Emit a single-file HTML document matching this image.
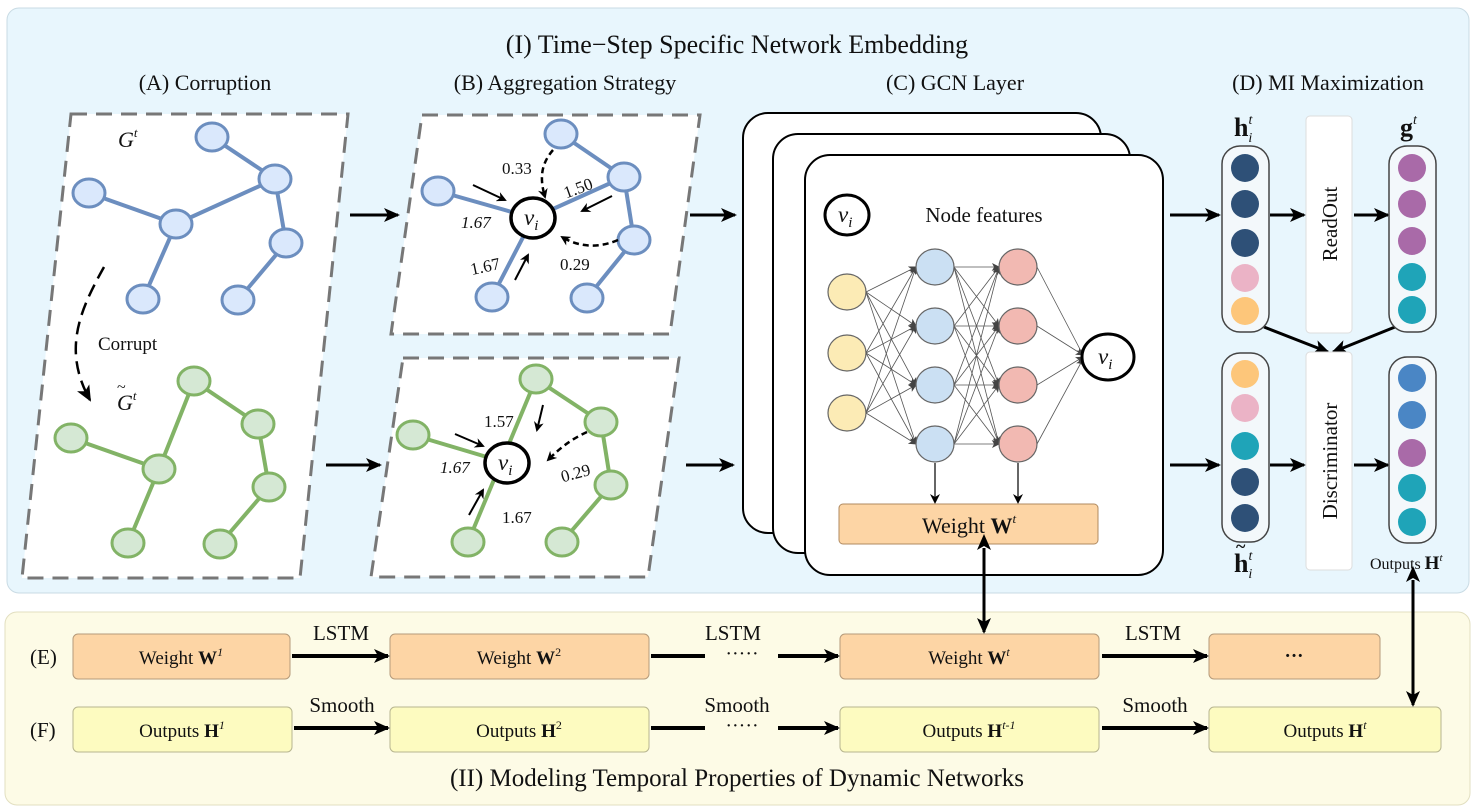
<!DOCTYPE html>
<html><head><meta charset="utf-8"><style>
html,body{margin:0;padding:0;background:#fff}
svg{display:block}
text{font-family:"Liberation Serif",serif;fill:#111}
</style></head><body>
<svg width="1475" height="810" viewBox="0 0 1475 810" xmlns="http://www.w3.org/2000/svg">
<defs>
<marker id="ah" markerWidth="10" markerHeight="10" refX="8" refY="5" orient="auto" markerUnits="userSpaceOnUse"><path d="M0,0 L10,5 L0,10 L3,5z" fill="#000"/></marker>
<marker id="ahb" markerWidth="16" markerHeight="16" refX="14" refY="8" orient="auto" markerUnits="userSpaceOnUse"><path d="M0,1 L16,8 L0,15 L4,8z" fill="#000"/></marker>
<marker id="ahs" markerWidth="8" markerHeight="8" refX="7" refY="4" orient="auto" markerUnits="userSpaceOnUse"><path d="M0,0 L8,4 L0,8 L2,4z" fill="#444"/></marker>
<marker id="ahbs" markerWidth="16" markerHeight="16" refX="2" refY="8" orient="auto-start-reverse" markerUnits="userSpaceOnUse"><path d="M0,1 L16,8 L0,15 L4,8z" fill="#000"/></marker>
</defs>
<rect x="7" y="8" width="1462" height="585" rx="12" fill="#e8f6fd" stroke="#c9dbe4"/>
<rect x="5" y="612" width="1465" height="193" rx="12" fill="#fdfbe6" stroke="#e2dfc0"/>
<text x="737" y="53" font-size="26" text-anchor="middle">(I) Time−Step Specific Network Embedding</text>
<g font-size="22" text-anchor="middle">
<text x="205" y="90">(A) Corruption</text>
<text x="565" y="90">(B) Aggregation Strategy</text>
<text x="955" y="90">(C) GCN Layer</text>
<text x="1328" y="90">(D) MI Maximization</text>
</g>
<!-- Panel A -->
<polygon points="71,114 348,114 300,578 22,578" fill="#fff" stroke="#777" stroke-width="3" stroke-dasharray="16,9"/>
<g stroke="#6c8ebf" stroke-width="4"><line x1="212" y1="137" x2="275" y2="179"/><line x1="275" y1="179" x2="176" y2="224"/><line x1="89" y1="193" x2="176" y2="224"/><line x1="176" y1="224" x2="143" y2="299"/><line x1="275" y1="179" x2="286" y2="243"/><line x1="286" y1="243" x2="238" y2="300"/></g>
<g fill="#dae8fc" stroke="#6c8ebf" stroke-width="3"><ellipse cx="212" cy="137" rx="16" ry="14"/><ellipse cx="275" cy="179" rx="16" ry="14"/><ellipse cx="89" cy="193" rx="16" ry="14"/><ellipse cx="176" cy="224" rx="16" ry="14"/><ellipse cx="286" cy="243" rx="16" ry="14"/><ellipse cx="143" cy="299" rx="16" ry="14"/><ellipse cx="238" cy="300" rx="16" ry="14"/></g>
<g stroke="#82b366" stroke-width="4"><line x1="194" y1="381" x2="159" y2="469"/><line x1="194" y1="381" x2="258" y2="424"/><line x1="71" y1="438" x2="159" y2="469"/><line x1="159" y1="469" x2="128" y2="543"/><line x1="258" y1="424" x2="269" y2="487"/><line x1="269" y1="487" x2="220" y2="544"/></g>
<g fill="#d5e8d4" stroke="#82b366" stroke-width="3"><ellipse cx="194" cy="381" rx="16" ry="14"/><ellipse cx="258" cy="424" rx="16" ry="14"/><ellipse cx="71" cy="438" rx="16" ry="14"/><ellipse cx="159" cy="469" rx="16" ry="14"/><ellipse cx="269" cy="487" rx="16" ry="14"/><ellipse cx="128" cy="543" rx="16" ry="14"/><ellipse cx="220" cy="544" rx="16" ry="14"/></g>
<text x="118" y="147" font-size="22" font-style="italic">G<tspan font-size="13" dy="-10">t</tspan></text>
<text x="117" y="410" font-size="22" font-style="italic">G<tspan font-size="13" dy="-10">t</tspan></text>
<text x="117" y="392" font-size="16">~</text>
<text x="98" y="350" font-size="19">Corrupt</text>
<path d="M104,267 C80,310 62,350 90,400" fill="none" stroke="#000" stroke-width="2.5" stroke-dasharray="13,7" marker-end="url(#ahb)"/>
<!-- Arrows A->B, B->C -->
<g stroke="#000" stroke-width="3"><line x1="350" y1="215" x2="398" y2="215" marker-end="url(#ahb)"/><line x1="326" y1="465" x2="380" y2="465" marker-end="url(#ahb)"/><line x1="690" y1="215" x2="735" y2="215" marker-end="url(#ahb)"/><line x1="686" y1="465" x2="733" y2="465" marker-end="url(#ahb)"/></g>
<!-- Panel B top -->
<polygon points="422,115 700,115 670,334 391,334" fill="#fff" stroke="#777" stroke-width="3" stroke-dasharray="16,9"/>
<g stroke="#6c8ebf" stroke-width="4"><line x1="561" y1="134" x2="624" y2="177"/><line x1="624" y1="177" x2="533" y2="218"/><line x1="438" y1="191" x2="533" y2="218"/><line x1="533" y1="218" x2="492" y2="297"/><line x1="624" y1="177" x2="634" y2="240"/><line x1="634" y1="240" x2="587" y2="298"/></g>
<g fill="#dae8fc" stroke="#6c8ebf" stroke-width="3"><ellipse cx="561" cy="134" rx="16" ry="14"/><ellipse cx="624" cy="177" rx="16" ry="14"/><ellipse cx="438" cy="191" rx="16" ry="14"/><ellipse cx="634" cy="240" rx="16" ry="14"/><ellipse cx="492" cy="297" rx="16" ry="14"/><ellipse cx="587" cy="298" rx="16" ry="14"/></g>
<ellipse cx="533" cy="218" rx="22" ry="20" fill="#fff" stroke="#000" stroke-width="3.5"/>
<text x="524" y="225" font-size="23" font-style="italic">v<tspan font-size="15" dy="5">i</tspan></text>
<g fill="none" stroke="#000" stroke-width="2.5" stroke-dasharray="6,4"><path d="M553,150 C540,165 540,180 545,197" marker-end="url(#ah)"/><path d="M618,240 C595,250 575,245 562,237" marker-end="url(#ah)"/></g>
<g stroke="#000" stroke-width="2"><line x1="473" y1="185" x2="505" y2="200" marker-end="url(#ah)"/><line x1="612" y1="196" x2="582" y2="211" marker-end="url(#ah)"/><line x1="515" y1="280" x2="528" y2="255" marker-end="url(#ah)"/></g>
<g font-size="17"><text x="502" y="174">0.33</text><text x="563" y="193" transform="rotate(-20 580 187)">1.50</text><text x="461" y="228" font-style="italic">1.67</text><text x="470" y="272" transform="rotate(-12 485 265)">1.67</text><text x="560" y="270">0.29</text></g>
<!-- Panel B bottom -->
<polygon points="403,358 679,358 648,577 371,577" fill="#fff" stroke="#777" stroke-width="3" stroke-dasharray="16,9"/>
<g stroke="#82b366" stroke-width="4"><line x1="536" y1="379" x2="468" y2="542"/><line x1="536" y1="379" x2="601" y2="422"/><line x1="413" y1="435" x2="507" y2="463"/><line x1="601" y1="422" x2="611" y2="485"/><line x1="611" y1="485" x2="562" y2="542"/></g>
<g fill="#d5e8d4" stroke="#82b366" stroke-width="3"><ellipse cx="536" cy="379" rx="16" ry="14"/><ellipse cx="601" cy="422" rx="16" ry="14"/><ellipse cx="413" cy="435" rx="16" ry="14"/><ellipse cx="611" cy="485" rx="16" ry="14"/><ellipse cx="468" cy="542" rx="16" ry="14"/><ellipse cx="562" cy="542" rx="16" ry="14"/></g>
<ellipse cx="507" cy="463" rx="22" ry="20" fill="#fff" stroke="#000" stroke-width="3.5"/>
<text x="498" y="470" font-size="23" font-style="italic">v<tspan font-size="15" dy="5">i</tspan></text>
<path d="M587,432 C570,440 560,448 548,460" fill="none" stroke="#000" stroke-width="2.5" stroke-dasharray="6,4" marker-end="url(#ah)"/>
<g stroke="#000" stroke-width="2"><line x1="455" y1="434" x2="483" y2="446" marker-end="url(#ah)"/><line x1="543" y1="405" x2="537" y2="430" marker-end="url(#ah)"/><line x1="469" y1="515" x2="483" y2="490" marker-end="url(#ah)"/></g>
<g font-size="17"><text x="484" y="427">1.57</text><text x="440" y="473" font-style="italic">1.67</text><text x="560" y="478" transform="rotate(-15 578 470)">0.29</text><text x="502" y="523">1.67</text></g>
<!-- Panel C -->
<rect x="743" y="113" width="358" height="420" rx="25" fill="#fff" stroke="#000" stroke-width="2"/>
<rect x="773" y="134" width="357" height="419" rx="25" fill="#fff" stroke="#000" stroke-width="2"/>
<rect x="805" y="155" width="358" height="420" rx="25" fill="#fff" stroke="#000" stroke-width="2"/>
<ellipse cx="847" cy="215" rx="22" ry="20" fill="#fff" stroke="#000" stroke-width="3"/>
<text x="838" y="222" font-size="23" font-style="italic">v<tspan font-size="15" dy="5">i</tspan></text>
<text x="984" y="222" font-size="21" text-anchor="middle">Node features</text>
<g stroke="#555" stroke-width="0.8" marker-end="url(#ahs)">
<line x1="866" y1="292" x2="916" y2="267"/><line x1="866" y1="292" x2="916" y2="326"/><line x1="866" y1="292" x2="916" y2="385"/><line x1="866" y1="292" x2="916" y2="444"/>
<line x1="866" y1="353" x2="916" y2="267"/><line x1="866" y1="353" x2="916" y2="326"/><line x1="866" y1="353" x2="916" y2="385"/><line x1="866" y1="353" x2="916" y2="444"/>
<line x1="866" y1="413" x2="916" y2="267"/><line x1="866" y1="413" x2="916" y2="326"/><line x1="866" y1="413" x2="916" y2="385"/><line x1="866" y1="413" x2="916" y2="444"/>
<line x1="954" y1="267" x2="999" y2="267"/><line x1="954" y1="267" x2="999" y2="326"/><line x1="954" y1="267" x2="999" y2="385"/><line x1="954" y1="267" x2="999" y2="444"/>
<line x1="954" y1="326" x2="999" y2="267"/><line x1="954" y1="326" x2="999" y2="326"/><line x1="954" y1="326" x2="999" y2="385"/><line x1="954" y1="326" x2="999" y2="444"/>
<line x1="954" y1="385" x2="999" y2="267"/><line x1="954" y1="385" x2="999" y2="326"/><line x1="954" y1="385" x2="999" y2="385"/><line x1="954" y1="385" x2="999" y2="444"/>
<line x1="954" y1="444" x2="999" y2="267"/><line x1="954" y1="444" x2="999" y2="326"/><line x1="954" y1="444" x2="999" y2="385"/><line x1="954" y1="444" x2="999" y2="444"/>
<line x1="1037" y1="267" x2="1083" y2="355"/><line x1="1037" y1="326" x2="1083" y2="355"/><line x1="1037" y1="385" x2="1083" y2="357"/><line x1="1037" y1="444" x2="1083" y2="359"/>
</g>
<g stroke="#666" stroke-width="1.2"><g fill="#fcebb5"><ellipse cx="847" cy="292" rx="19" ry="18"/><ellipse cx="847" cy="353" rx="19" ry="18"/><ellipse cx="847" cy="413" rx="19" ry="18"/></g>
<g fill="#cbe0f3"><ellipse cx="935" cy="267" rx="19" ry="18"/><ellipse cx="935" cy="326" rx="19" ry="18"/><ellipse cx="935" cy="385" rx="19" ry="18"/><ellipse cx="935" cy="444" rx="19" ry="18"/></g>
<g fill="#f2b9b2"><ellipse cx="1018" cy="267" rx="19" ry="18"/><ellipse cx="1018" cy="326" rx="19" ry="18"/><ellipse cx="1018" cy="385" rx="19" ry="18"/><ellipse cx="1018" cy="444" rx="19" ry="18"/></g></g>
<ellipse cx="1108" cy="357" rx="26" ry="23" fill="#fff" stroke="#000" stroke-width="3"/>
<text x="1098" y="364" font-size="23" font-style="italic">v<tspan font-size="15" dy="5">i</tspan></text>
<g stroke="#333" stroke-width="1.5"><line x1="935" y1="463" x2="935" y2="502" marker-end="url(#ah)"/><line x1="1018" y1="463" x2="1018" y2="502" marker-end="url(#ah)"/></g>
<rect x="839" y="504" width="259" height="40" rx="4" fill="#fdd5a5" stroke="#b08a60"/>
<text x="969" y="533" font-size="22" text-anchor="middle">Weight <tspan font-weight="bold">W</tspan><tspan font-size="13" dy="-10" font-style="italic">t</tspan></text>
<line x1="984" y1="548" x2="984" y2="632" stroke="#000" stroke-width="3" marker-start="url(#ahbs)" marker-end="url(#ahb)"/>
<!-- Panel D -->
<g stroke="#000" stroke-width="3"><line x1="1170" y1="215" x2="1219" y2="215" marker-end="url(#ahb)"/><line x1="1170" y1="465" x2="1219" y2="465" marker-end="url(#ahb)"/>
<line x1="1270" y1="215" x2="1304" y2="215" marker-end="url(#ahb)"/><line x1="1354" y1="215" x2="1388" y2="215" marker-end="url(#ahb)"/>
<line x1="1270" y1="465" x2="1304" y2="465" marker-end="url(#ahb)"/><line x1="1354" y1="465" x2="1388" y2="465" marker-end="url(#ahb)"/>
<line x1="1264" y1="327" x2="1328" y2="352" marker-end="url(#ahb)"/><line x1="1395" y1="327" x2="1333" y2="352" marker-end="url(#ahb)"/></g>
<rect x="1306" y="116" width="46" height="217" rx="4" fill="#fff" stroke="#ddd"/>
<text transform="translate(1337,224) rotate(-90)" font-size="21" text-anchor="middle">ReadOut</text>
<rect x="1306" y="352" width="46" height="218" rx="4" fill="#fff" stroke="#ddd"/>
<text transform="translate(1337,461) rotate(-90)" font-size="21" text-anchor="middle">Discriminator</text>
<g fill="#f3f8fb" stroke="#444" stroke-width="1.5"><rect x="1222" y="146" width="47" height="186" rx="18"/><rect x="1389" y="146" width="47" height="186" rx="18"/><rect x="1222" y="353" width="47" height="189" rx="18"/><rect x="1389" y="357" width="47" height="186" rx="18"/></g>
<g>
<ellipse cx="1245" cy="168" rx="14" ry="14" fill="#2e5077"/><ellipse cx="1245" cy="204" rx="14" ry="14" fill="#2e5077"/><ellipse cx="1245" cy="243" rx="14" ry="14" fill="#2e5077"/><ellipse cx="1245" cy="278" rx="14" ry="14" fill="#ebb3c6"/><ellipse cx="1245" cy="311" rx="14" ry="14" fill="#fdc67a"/>
<ellipse cx="1412" cy="168" rx="14" ry="14" fill="#a96aa8"/><ellipse cx="1412" cy="204" rx="14" ry="14" fill="#a96aa8"/><ellipse cx="1412" cy="241" rx="14" ry="14" fill="#a96aa8"/><ellipse cx="1412" cy="277" rx="14" ry="14" fill="#1fa4b8"/><ellipse cx="1412" cy="310" rx="14" ry="14" fill="#1fa4b8"/>
<ellipse cx="1245" cy="374" rx="14" ry="14" fill="#fdc67a"/><ellipse cx="1245" cy="408" rx="14" ry="14" fill="#ebb3c6"/><ellipse cx="1245" cy="446" rx="14" ry="14" fill="#1fa4b8"/><ellipse cx="1245" cy="482" rx="14" ry="14" fill="#2e5077"/><ellipse cx="1245" cy="518" rx="14" ry="14" fill="#2e5077"/>
<ellipse cx="1412" cy="378" rx="14" ry="14" fill="#4a86c5"/><ellipse cx="1412" cy="415" rx="14" ry="14" fill="#4a86c5"/><ellipse cx="1412" cy="453" rx="14" ry="14" fill="#a96aa8"/><ellipse cx="1412" cy="488" rx="14" ry="14" fill="#1fa4b8"/><ellipse cx="1412" cy="522" rx="14" ry="14" fill="#1fa4b8"/>
</g>
<text x="1234" y="136" font-size="26" font-weight="bold">h<tspan font-size="14" font-weight="normal" font-style="italic" dy="-12">t</tspan><tspan font-size="14" font-weight="normal" font-style="italic" dx="-4" dy="18">i</tspan></text>
<text x="1400" y="136" font-size="26" font-weight="bold">g<tspan font-size="14" font-weight="normal" font-style="italic" dy="-12">t</tspan></text>
<text x="1234" y="572" font-size="26" font-weight="bold">h<tspan font-size="14" font-weight="normal" font-style="italic" dy="-12">t</tspan><tspan font-size="14" font-weight="normal" font-style="italic" dx="-4" dy="18">i</tspan></text>
<text x="1236" y="552" font-size="18" font-weight="bold">~</text>
<text x="1370" y="569" font-size="16">Outputs <tspan font-weight="bold" font-size="19">H</tspan><tspan font-size="11" dy="-8" font-style="italic">t</tspan></text>
<line x1="1413" y1="580" x2="1413" y2="705" stroke="#000" stroke-width="3" marker-start="url(#ahbs)" marker-end="url(#ahb)"/>
<!-- Bottom panel -->
<text x="30" y="664" font-size="21">(E)</text>
<text x="30" y="737" font-size="21">(F)</text>
<g fill="#fdd5a5" stroke="#b59a7a" stroke-width="1"><rect x="73" y="634" width="217" height="45" rx="5"/><rect x="390" y="634" width="259" height="45" rx="5"/><rect x="840" y="634" width="259" height="45" rx="5"/><rect x="1209" y="634" width="171" height="45" rx="5"/></g>
<g fill="#fdfbc0" stroke="#b8b690" stroke-width="1"><rect x="73" y="707" width="219" height="45" rx="5"/><rect x="390" y="707" width="259" height="45" rx="5"/><rect x="840" y="707" width="259" height="45" rx="5"/><rect x="1209" y="707" width="232" height="45" rx="5"/></g>
<g font-size="19" text-anchor="middle">
<text x="181" y="664">Weight <tspan font-weight="bold">W</tspan><tspan font-size="12" dy="-8" font-style="italic">1</tspan></text>
<text x="519" y="664">Weight <tspan font-weight="bold">W</tspan><tspan font-size="12" dy="-8">2</tspan></text>
<text x="969" y="664">Weight <tspan font-weight="bold">W</tspan><tspan font-size="12" dy="-8" font-style="italic">t</tspan></text>
<text x="1294" y="662" font-weight="bold">···</text>
<text x="182" y="737">Outputs <tspan font-weight="bold">H</tspan><tspan font-size="12" dy="-8" font-style="italic">1</tspan></text>
<text x="519" y="737">Outputs <tspan font-weight="bold">H</tspan><tspan font-size="12" dy="-8">2</tspan></text>
<text x="969" y="737">Outputs <tspan font-weight="bold">H</tspan><tspan font-size="12" dy="-8" font-style="italic">t-1</tspan></text>
<text x="1325" y="737">Outputs  <tspan font-weight="bold">H</tspan><tspan font-size="12" dy="-8" font-style="italic">t</tspan></text>
</g>
<g font-size="21" text-anchor="middle"><text x="341" y="640">LSTM</text><text x="733" y="640">LSTM</text><text x="1153" y="640">LSTM</text><text x="342" y="712">Smooth</text><text x="737" y="712">Smooth</text><text x="1155" y="712">Smooth</text></g>
<g stroke="#000" stroke-width="4"><line x1="292" y1="656" x2="388" y2="656" marker-end="url(#ahb)"/><line x1="1102" y1="656" x2="1207" y2="656" marker-end="url(#ahb)"/><line x1="294" y1="728" x2="388" y2="728" marker-end="url(#ahb)"/><line x1="1102" y1="728" x2="1207" y2="728" marker-end="url(#ahb)"/>
<line x1="651" y1="656" x2="705" y2="656"/><line x1="778" y1="656" x2="838" y2="656" marker-end="url(#ahb)"/><line x1="651" y1="728" x2="705" y2="728"/><line x1="778" y1="728" x2="838" y2="728" marker-end="url(#ahb)"/></g>
<g font-size="20" text-anchor="middle"><text x="742" y="660">·····</text><text x="742" y="732">·····</text></g>
<text x="737" y="786" font-size="25" text-anchor="middle">(II) Modeling Temporal Properties of Dynamic Networks</text>
</svg>
</body></html>
